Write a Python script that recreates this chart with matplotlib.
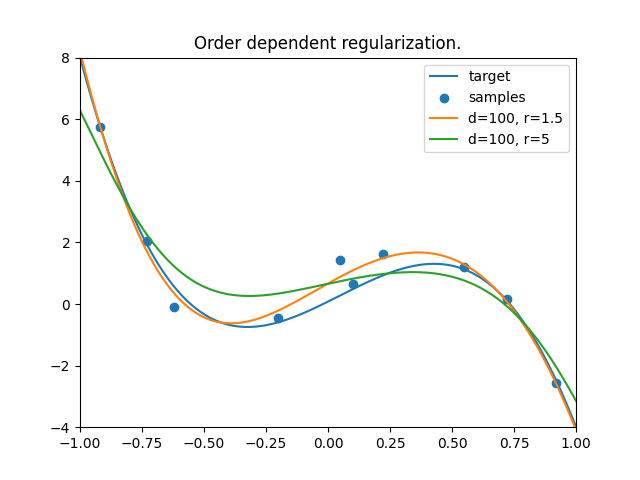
import numpy as np
import matplotlib
matplotlib.use("Agg")
import matplotlib.pyplot as plt

# samples
sample_x = [-0.919, -0.730, -0.621, -0.202, 0.048, 0.101, 0.222, 0.548, 0.722, 0.919]
sample_y = [5.75, 2.05, -0.10, -0.46, 1.43, 0.65, 1.63, 1.20, 0.16, -2.57]

# curve points
target_x = [-1.0, -0.917, -0.798, -0.728, -0.597, -0.462, -0.301, -0.2, -0.059,
            0.048, 0.102, 0.236, 0.371, 0.431, 0.548, 0.640, 0.724, 0.841, 0.919, 1.0]
target_y = [8.0, 5.75, 2.95, 2.05, 0.29, -0.5, -0.74, -0.6, -0.09,
            0.24, 0.46, 0.98, 1.27, 1.30, 1.19, 0.67, 0.08, -1.28, -2.42, -4.0]

r15_x = [-1.0, -0.917, -0.798, -0.731, -0.597, -0.462, -0.382, -0.2, -0.059,
         0.048, 0.102, 0.236, 0.371, 0.548, 0.640, 0.724, 0.841, 0.919, 1.0]
r15_y = [8.2, 5.75, 2.79, 1.86, 0.08, -0.54, -0.63, -0.2, 0.43,
         0.87, 1.05, 1.52, 1.70, 1.32, 0.73, 0.02, -1.33, -2.57, -4.1]

r5_x = [-1.0, -0.917, -0.798, -0.731, -0.597, -0.462, -0.288, -0.126, 0.048,
        0.102, 0.236, 0.371, 0.505, 0.640, 0.774, 0.909, 1.0]
r5_y = [6.2, 5.12, 2.95, 2.19, 1.11, 0.51, 0.27, 0.4, 0.73,
        0.78, 1.02, 1.09, 0.89, 0.35, -0.52, -1.82, -3.18]


def smooth(xs, ys, deg=7):
    coef = np.polyfit(xs, ys, deg)
    grid = np.linspace(-1, 1, 400)
    return grid, np.polyval(coef, grid)


fig, ax = plt.subplots(figsize=(6.4, 4.8))
ax.plot(*smooth(target_x, target_y), label="target")
ax.scatter(sample_x, sample_y, label="samples")
ax.plot(*smooth(r15_x, r15_y), label="d=100, r=1.5")
ax.plot(*smooth(r5_x, r5_y), label="d=100, r=5")
ax.set_xlim(-1, 1)
ax.set_ylim(-4, 8)
ax.set_title("Order dependent regularization.")
ax.legend(loc="upper right")
fig.savefig("out.png", dpi=100)
